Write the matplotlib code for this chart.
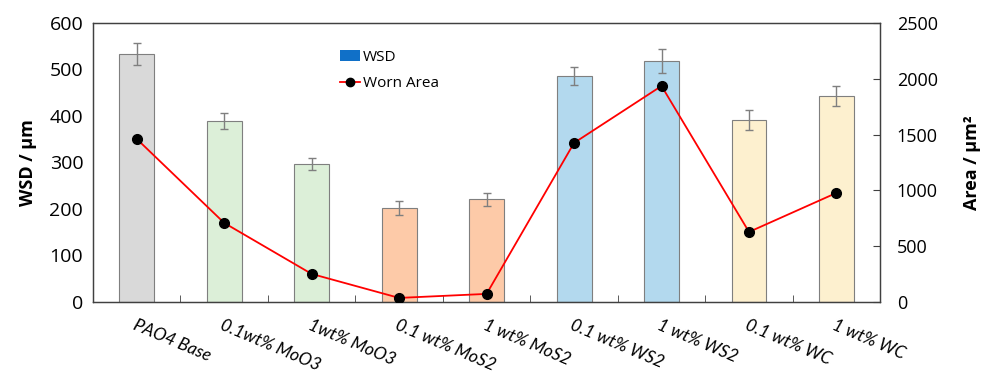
import matplotlib
matplotlib.use("Agg")
import matplotlib.pyplot as plt
from matplotlib.patches import Patch
from matplotlib.lines import Line2D
import numpy as np

categories = ["PAO4 Base", "0.1wt% MoO3", "1wt% MoO3", "0.1 wt% MoS2", "1 wt% MoS2",
              "0.1 wt% WS2", "1 wt% WS2", "0.1 wt% WC", "1 wt% WC"]
wsd = [533, 389, 297, 202, 221, 486, 518, 391, 443]
wsd_err = [23, 17, 13, 15, 14, 19, 25, 21, 21]
worn_area = [1461, 708, 251, 36, 72, 1425, 1935, 627, 977]
bar_colors = ["#d9d9d9", "#dcefd8", "#dcefd8", "#fdcaa8", "#fdcaa8",
              "#b3d9ee", "#b3d9ee", "#fdf0cf", "#fdf0cf"]

plt.rcParams['font.family'] = ['Open Sans', 'DejaVu Sans']

fig = plt.figure(figsize=(9.89, 3.76), dpi=100)
ax = fig.add_axes([0.094, 0.197, 0.796, 0.742])
x = np.arange(len(categories))
ax.bar(x, wsd, width=0.4, color=bar_colors, edgecolor="#7f7f7f", linewidth=0.8, zorder=2)
ax.errorbar(x, wsd, yerr=wsd_err, fmt="none", ecolor="#7f7f7f", elinewidth=1.0,
            capsize=3, capthick=1.0, zorder=3)
ax.set_xlim(-0.5, len(categories) - 0.5)
ax.set_ylim(0, 600)
ax.set_yticks(range(0, 601, 100))
ax.tick_params(axis='y', length=0, labelsize=14, pad=7)
ax.set_xticks(x)
ax.set_xticklabels(categories, rotation=-23, ha='left', rotation_mode='anchor',
                   fontsize=12.5, style='italic', family=['Lato', 'DejaVu Sans'])
ax.tick_params(axis='x', which='major', length=0, pad=11)
ax.set_xticks(np.arange(0.5, len(categories) - 0.5, 1), minor=True)
ax.tick_params(axis='x', which='minor', direction='in', length=5, color="#404040")
for s in ax.spines.values():
    s.set_color("#404040")
    s.set_linewidth(0.9)
ax.set_ylabel("WSD / μm", fontsize=13, fontweight='bold', labelpad=9)

ax2 = ax.twinx()
ax2.plot(x, worn_area, color="red", linewidth=1.3, marker='o', markersize=7,
         markerfacecolor='black', markeredgecolor='black', zorder=4)
ax2.set_ylim(0, 2500)
ax2.set_yticks(range(0, 2501, 500))
ax2.tick_params(axis='y', direction='in', length=5, labelsize=13, pad=12, color="#404040")
ax2.set_ylabel("Area / μm²", fontsize=13, fontweight='bold', labelpad=18)
for s in ax2.spines.values():
    s.set_color("#404040")
    s.set_linewidth(0.9)

handles = [Patch(facecolor="#1070c8", edgecolor="none"),
           Line2D([0], [0], color='red', linewidth=1.3, marker='o', markersize=6,
                  markerfacecolor='black', markeredgecolor='black')]
ax2.legend(handles, ["WSD", "Worn Area"], loc='upper left', bbox_to_anchor=(0.306, 0.925),
           frameon=False, fontsize=11, handlelength=1.3, handletextpad=0.2,
           labelspacing=0.75, borderaxespad=0)

fig.savefig("out.png", dpi=100)
